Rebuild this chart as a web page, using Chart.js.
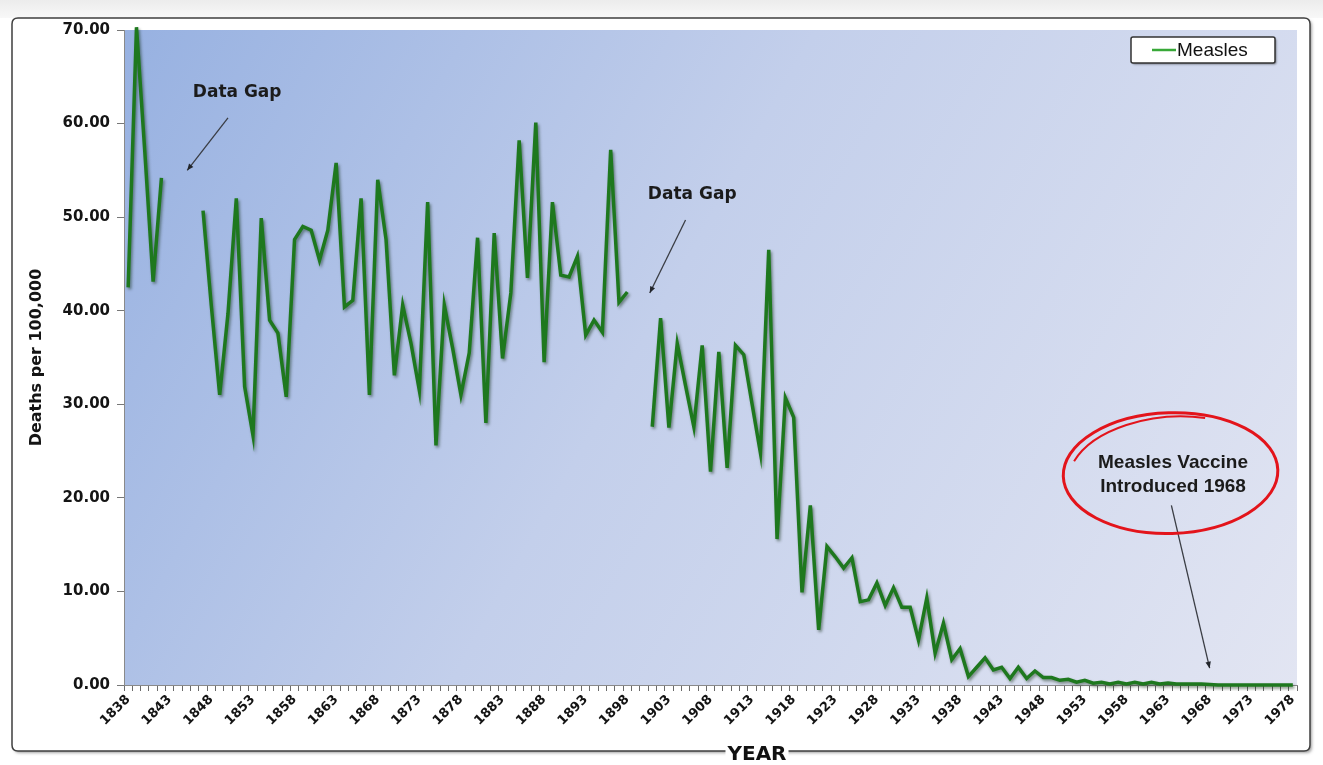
<!DOCTYPE html>
<html>
<head>
<meta charset="utf-8">
<title>Measles deaths per 100,000</title>
<script src="https://cdn.jsdelivr.net/npm/chart.js@4.4.1/dist/chart.umd.min.js"></script>
<style>
    html, body { margin: 0; padding: 0; background: #fff; }
    #wrap { width: 1323px; height: 765px; }
</style>
</head>
<body>
<div id="wrap"><canvas id="measlesChart" width="1323" height="765"></canvas></div>
<script>
// Chart data
const firstYear = 1838;
const lastYear = 1978;
const seriesName = 'Measles';
const yTitle = 'Deaths per 100,000';
const xTitle = 'YEAR';

// one value per year, null = no data
const deaths = [
    42.5, 70.3, 57.0, 43.1, 54.2, null, null, null, null, 50.7,   // 1838-1847
    40.5, 31.0, 39.7, 52.0, 31.9, 26.7, 49.9, 39.0, 37.6, 30.8,   // 1848-1857
    47.6, 49.0, 48.6, 45.4, 48.6, 55.8, 40.4, 41.1, 52.0, 31.0,   // 1858-1867
    54.0, 47.6, 33.1, 40.6, 36.5, 31.5, 51.6, 25.6, 40.6, 36.0,   // 1868-1877
    31.0, 35.5, 47.8, 28.0, 48.3, 34.9, 41.9, 58.2, 43.5, 60.1,   // 1878-1887
    34.5, 51.6, 43.8, 43.6, 45.8, 37.4, 39.0, 37.7, 57.2, 40.9,   // 1888-1897
    42.0, null, null, 27.6, 39.2, 27.5, 36.5, 32.0, 27.6, 36.3,   // 1898-1907
    22.8, 35.6, 23.2, 36.3, 35.3, 30.0, 24.8, 46.5, 15.6, 30.7,   // 1908-1917
    28.6, 9.9, 19.2, 5.9, 14.8, 13.7, 12.5, 13.6, 8.9, 9.1,       // 1918-1927
    10.9, 8.5, 10.4, 8.3, 8.3, 4.8, 9.3, 3.4, 6.6, 2.7,           // 1928-1937
    3.9, 0.9, 1.9, 2.9, 1.6, 1.9, 0.7, 1.9, 0.7, 1.5,             // 1938-1947
    0.8, 0.8, 0.5, 0.6, 0.3, 0.5, 0.2, 0.3, 0.1, 0.3,             // 1948-1957
    0.1, 0.3, 0.1, 0.3, 0.1, 0.2, 0.1, 0.1, 0.1, 0.1,             // 1958-1967
    0.05, 0, 0, 0, 0, 0, 0, 0, 0, 0, 0                            // 1968-1978
];

const yMin = 0;
const yMax = 70;
const yStep = 10;
const labelEvery = 5;

const years = [];
for (let y = firstYear; y <= lastYear; y++) {
    years.push(String(y));
}

// annotations, in (year, value) coordinates
const gapNotes = [
    { text: 'Data Gap', at: [1851.1, 63.3], from: [1850.0, 60.6], to: [1845.1, 55.0] },
    { text: 'Data Gap', at: [1905.8, 52.4], from: [1905.0, 49.7], to: [1900.7, 41.9] }
];
const vaccineNote = {
    lines: ['Measles Vaccine', 'Introduced 1968'],
    at: [1963.6, 22.5],
    from: [1963.4, 19.2],
    to: [1968.0, 1.8],
    ring: { x0: 1950.4, x1: 1976.2, y0: 16.2, y1: 29.1 }
};

const fontSans = '"DejaVu Sans", "Liberation Sans", Arial, sans-serif';

function toPx(chart, pt) {
    const xs = chart.scales.x;
    const ys = chart.scales.y;
    return [xs.getPixelForValue(pt[0] - firstYear), ys.getPixelForValue(pt[1])];
}

function drawArrow(ctx, from, to) {
    ctx.save();
    ctx.strokeStyle = '#3a3d44';
    ctx.fillStyle = '#22252b';
    ctx.lineWidth = 1.3;
    ctx.beginPath();
    ctx.moveTo(from[0], from[1]);
    ctx.lineTo(to[0], to[1]);
    ctx.stroke();
    const ang = Math.atan2(to[1] - from[1], to[0] - from[0]);
    const len = 7;
    ctx.beginPath();
    ctx.moveTo(to[0], to[1]);
    ctx.lineTo(to[0] - len * Math.cos(ang - 0.4), to[1] - len * Math.sin(ang - 0.4));
    ctx.lineTo(to[0] - len * Math.cos(ang + 0.4), to[1] - len * Math.sin(ang + 0.4));
    ctx.closePath();
    ctx.fill();
    ctx.restore();
}

function roundRect(ctx, x, y, w, h, r) {
    ctx.beginPath();
    ctx.moveTo(x + r, y);
    ctx.lineTo(x + w - r, y);
    ctx.quadraticCurveTo(x + w, y, x + w, y + r);
    ctx.lineTo(x + w, y + h - r);
    ctx.quadraticCurveTo(x + w, y + h, x + w - r, y + h);
    ctx.lineTo(x + r, y + h);
    ctx.quadraticCurveTo(x, y + h, x, y + h - r);
    ctx.lineTo(x, y + r);
    ctx.quadraticCurveTo(x, y, x + r, y);
    ctx.closePath();
}

// frame + plot background
const backdropPlugin = {
    id: 'backdrop',
    beforeDraw(chart) {
        const ctx = chart.ctx;
        const a = chart.chartArea;
        ctx.save();
        ctx.fillStyle = '#ffffff';
        ctx.fillRect(0, 0, chart.width, chart.height);
        const band = ctx.createLinearGradient(0, 0, 0, 18);
        band.addColorStop(0, '#ececec');
        band.addColorStop(1, '#f8f8f8');
        ctx.fillStyle = band;
        ctx.fillRect(0, 0, chart.width, 18);

        // outer card
        ctx.shadowColor = 'rgba(0,0,0,0.35)';
        ctx.shadowBlur = 3;
        ctx.shadowOffsetX = 2;
        ctx.shadowOffsetY = 2;
        roundRect(ctx, 12, 18, 1298, 733, 6);
        ctx.fillStyle = '#ffffff';
        ctx.fill();
        ctx.shadowColor = 'transparent';
        ctx.strokeStyle = '#3f3f3f';
        ctx.lineWidth = 1.5;
        ctx.stroke();

        // plot area gradient
        const g = ctx.createLinearGradient(a.left, a.top, a.right, a.bottom);
        g.addColorStop(0, '#97b1e1');
        g.addColorStop(0.45, '#c3cfeb');
        g.addColorStop(1, '#e2e5f2');
        ctx.fillStyle = g;
        ctx.fillRect(a.left, a.top, a.right - a.left, a.bottom - a.top);
        ctx.restore();
    },
    afterDraw(chart) {
        const ctx = chart.ctx;
        ctx.save();
        // x axis title sitting on the frame line
        ctx.font = 'bold 20px ' + fontSans;
        const w = ctx.measureText(xTitle).width;
        const cx = 757;
        ctx.fillStyle = '#ffffff';
        ctx.fillRect(cx - w / 2 - 2, 744, w + 4, 21);
        ctx.fillStyle = '#111111';
        ctx.textAlign = 'center';
        ctx.textBaseline = 'middle';
        ctx.fillText(xTitle, cx, 755);
        ctx.restore();
    }
};

// soft shadow under the line
const lineShadowPlugin = {
    id: 'lineShadow',
    beforeDatasetDraw(chart) {
        const ctx = chart.ctx;
        ctx.save();
        ctx.shadowColor = 'rgba(0, 30, 0, 0.45)';
        ctx.shadowBlur = 3;
        ctx.shadowOffsetX = 1.5;
        ctx.shadowOffsetY = 2;
    },
    afterDatasetDraw(chart) {
        chart.ctx.restore();
    }
};

// notes, ring and the boxed legend
const notesPlugin = {
    id: 'notes',
    afterDatasetsDraw(chart) {
        const ctx = chart.ctx;
        ctx.save();

        gapNotes.forEach(n => {
            const p = toPx(chart, n.at);
            ctx.font = 'bold 17px ' + fontSans;
            ctx.fillStyle = '#1b1b1b';
            ctx.textAlign = 'center';
            ctx.textBaseline = 'middle';
            ctx.fillText(n.text, p[0], p[1]);
            drawArrow(ctx, toPx(chart, n.from), toPx(chart, n.to));
        });

        // vaccine note
        const c = toPx(chart, vaccineNote.at);
        ctx.font = 'bold 19px "Liberation Sans", Arial, sans-serif';
        ctx.fillStyle = '#1b1b1b';
        ctx.textAlign = 'center';
        ctx.textBaseline = 'middle';
        ctx.fillText(vaccineNote.lines[0], c[0], c[1] - 12);
        ctx.fillText(vaccineNote.lines[1], c[0], c[1] + 12);
        drawArrow(ctx, toPx(chart, vaccineNote.from), toPx(chart, vaccineNote.to));

        const r = vaccineNote.ring;
        const tl = toPx(chart, [r.x0, r.y1]);
        const br = toPx(chart, [r.x1, r.y0]);
        const ex = (tl[0] + br[0]) / 2, ey = (tl[1] + br[1]) / 2;
        const rx = (br[0] - tl[0]) / 2, ry = (br[1] - tl[1]) / 2;
        ctx.strokeStyle = '#e3141b';
        ctx.lineWidth = 3;
        ctx.beginPath();
        ctx.ellipse(ex, ey, rx, ry, -0.03, 0, Math.PI * 2);
        ctx.stroke();
        // hand-drawn overlap along the top
        ctx.lineWidth = 2;
        ctx.beginPath();
        ctx.ellipse(ex + 1, ey + 2, rx - 4, ry - 2, -0.08, Math.PI * 1.12, Math.PI * 1.62);
        ctx.stroke();

        // legend box
        const ds = chart.data.datasets[0];
        const bx = 1131, by = 37, bw = 144, bh = 26;
        ctx.shadowColor = 'rgba(0,0,0,0.4)';
        ctx.shadowBlur = 2;
        ctx.shadowOffsetX = 1.5;
        ctx.shadowOffsetY = 1.5;
        roundRect(ctx, bx, by, bw, bh, 2);
        ctx.fillStyle = '#ffffff';
        ctx.fill();
        ctx.shadowColor = 'transparent';
        ctx.strokeStyle = '#333333';
        ctx.lineWidth = 1.5;
        ctx.stroke();
        ctx.strokeStyle = '#38a838';
        ctx.lineWidth = 2.5;
        ctx.beginPath();
        ctx.moveTo(bx + 21, by + bh / 2);
        ctx.lineTo(bx + 45, by + bh / 2);
        ctx.stroke();
        ctx.font = '19px "Liberation Sans", Arial, sans-serif';
        ctx.fillStyle = '#111111';
        ctx.textAlign = 'left';
        ctx.textBaseline = 'middle';
        ctx.fillText(ds.label, bx + 46, by + bh / 2 + 1);

        ctx.restore();
    }
};

const ctx = document.getElementById('measlesChart').getContext('2d');

new Chart(ctx, {
    type: 'line',
    data: {
        labels: years,
        datasets: [{
            label: seriesName,
            data: deaths,
            borderColor: '#1e781e',
            borderWidth: 3.5,
            pointRadius: 0,
            tension: 0,
            spanGaps: false,
            fill: false,
            clip: 6
        }]
    },
    options: {
        responsive: false,
        animation: false,
        devicePixelRatio: 1,
        layout: {
            padding: { top: 30, right: 26, bottom: 0, left: 0 }
        },
        plugins: {
            legend: { display: false },
            tooltip: { enabled: false }
        },
        scales: {
            x: {
                type: 'category',
                offset: true,
                afterFit: scale => { scale.height = 80; },
                grid: {
                    display: true,
                    offset: true,
                    drawOnChartArea: false,
                    drawTicks: true,
                    tickLength: 6,
                    color: '#6a6a6a'
                },
                border: { display: true, color: '#8a8a8a', width: 1 },
                ticks: {
                    autoSkip: false,
                    maxRotation: 45,
                    minRotation: 45,
                    padding: 1,
                    color: '#141414',
                    font: { family: fontSans, size: 13, weight: 'bold' },
                    callback: (val, idx) => (idx % labelEvery === 0 ? years[idx] : '')
                }
            },
            y: {
                min: yMin,
                max: yMax,
                afterFit: scale => { scale.width = 124; },
                grid: {
                    display: true,
                    drawOnChartArea: false,
                    drawTicks: true,
                    tickLength: 7,
                    color: '#777777'
                },
                border: { display: true, color: '#8a8a8a', width: 1 },
                ticks: {
                    stepSize: yStep,
                    padding: 7,
                    color: '#141414',
                    font: { family: fontSans, size: 15, weight: 'bold' },
                    callback: v => Number(v).toFixed(2)
                },
                title: {
                    display: true,
                    text: yTitle,
                    color: '#141414',
                    padding: { top: 27, bottom: 0 },
                    font: { family: fontSans, size: 16, weight: 'bold' }
                }
            }
        }
    },
    plugins: [backdropPlugin, lineShadowPlugin, notesPlugin]
});
</script>
</body>
</html>
